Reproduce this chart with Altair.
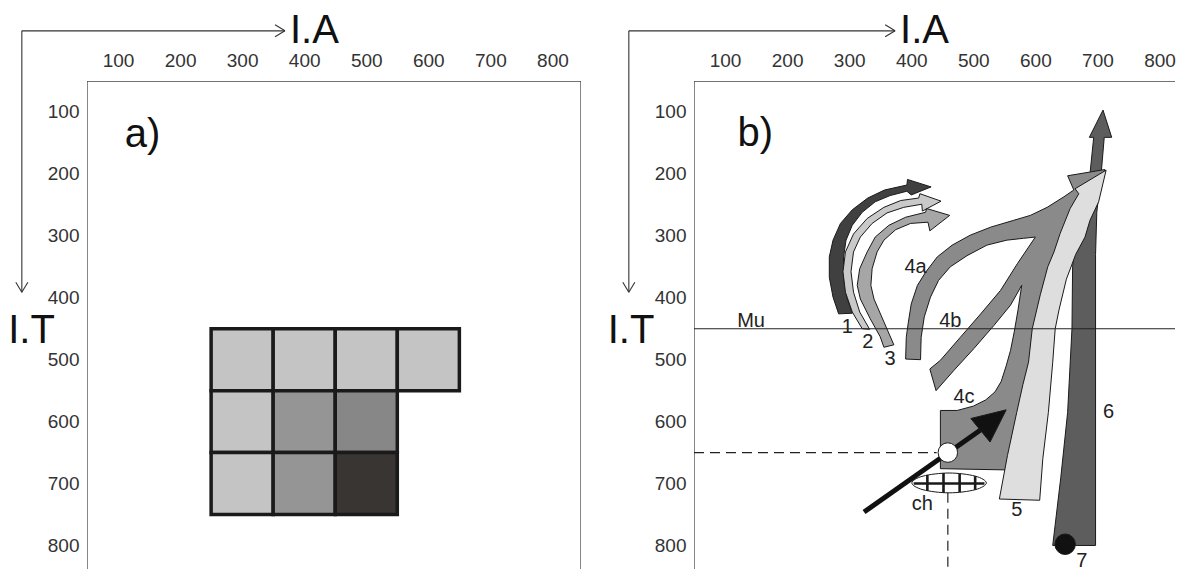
import altair as alt
import pandas as pd

FONT = "Liberation Sans, Arial, sans-serif"
INK = "#1a1a1a"

# ---------------- axes ----------------
TICKS = [100, 200, 300, 400, 500, 600, 700, 800]
X_LO, XA_HI, XB_HI = 50, 846, 825
Y_LO, Y_HI = 50, 838
W_A, W_B, H = 494, 481, 488

# ---------------- panel a : grid of cells ----------------
CELL_X0 = [250, 350, 450, 550, 250, 350, 450, 250, 350, 450]
CELL_X1 = [350, 450, 550, 650, 350, 450, 550, 350, 450, 550]
CELL_Y0 = [450, 450, 450, 450, 550, 550, 550, 650, 650, 650]
CELL_Y1 = [550, 550, 550, 550, 650, 650, 650, 750, 750, 750]
CELL_FILL = ["#c4c4c4", "#c4c4c4", "#c4c4c4", "#c4c4c4",
             "#c4c4c4", "#959595", "#878787",
             "#c4c4c4", "#959595", "#383532"]

# ---------------- panel b : trajectories ----------------
ARROW1_X = [283, 274, 268, 268, 274, 286, 305, 330, 357, 393, 394, 432, 400, 393, 366, 342, 321, 305, 295, 291, 291, 296, 305]
ARROW1_Y = [426, 399, 367, 334, 307, 280, 258, 239, 226, 218, 209, 221, 234, 228, 235, 245, 262, 283, 307, 334, 367, 399, 425]

ARROW2_X = [321, 305, 294, 290, 294, 307, 329, 356, 383, 412, 414, 448, 418, 417, 388, 361, 337, 318, 307, 303, 307, 317, 333]
ARROW2_Y = [450, 423, 391, 358, 326, 297, 272, 254, 243, 239, 232, 244, 260, 249, 254, 263, 280, 302, 326, 358, 391, 423, 451]

ARROW3_X = [356, 350, 334, 318, 313, 317, 329, 342, 364, 391, 423, 425, 462, 430, 427, 399, 375, 356, 345, 337, 335, 340, 356, 372]
ARROW3_Y = [480, 463, 434, 402, 380, 353, 326, 302, 283, 270, 262, 256, 267, 292, 278, 280, 290, 307, 326, 353, 380, 402, 439, 476]

TREE4_X = [391, 392, 395, 400, 410, 423, 442, 466, 495, 528, 565, 592, 619, 646, 662, 652, 712, 690, 662, 640,
           620, 610, 600, 585, 553, 447, 447, 474, 500, 520, 535, 545, 553, 560, 566, 572, 578, 560, 533, 501,
           469, 440, 430, 447, 479, 512, 544, 571, 600, 581, 554, 522, 490, 463, 444, 431, 421, 416, 415]
TREE4_Y = [499, 464, 442, 410, 380, 359, 334, 315, 299, 286, 275, 267, 254, 237, 226, 203, 193, 240, 300, 350,
           420, 480, 550, 620, 678, 676, 582, 582, 575, 565, 552, 535, 510, 485, 455, 420, 380, 412, 445, 482,
           517, 550, 515, 501, 464, 426, 388, 345, 302, 304, 307, 315, 332, 350, 372, 399, 431, 464, 500]

BAND5_X = [542, 555, 570, 580, 589, 595, 608, 620, 630, 640, 656, 670, 664, 714, 702, 688, 680, 665, 650, 638, 632, 628, 621, 612, 607]
BAND5_Y = [725, 655, 585, 540, 504, 450, 395, 350, 326, 296, 256, 232, 224, 194, 245, 275, 302, 330, 370, 420, 450, 504, 585, 660, 727]

BAND6_X = [628, 697, 697, 699, 706, 711, 723, 709, 687, 694, 688, 674, 665, 660, 659, 652, 641]
BAND6_Y = [800, 800, 330, 262, 200, 141, 141, 97, 141, 141, 200, 262, 300, 350, 450, 585, 690]

HEAD_X = [553, 496, 527]
HEAD_Y = [581, 595, 633]
SHAFT = [324, 746, 515, 611]

ELL_X = [401, 419, 461, 503, 521, 503, 461, 419]
ELL_Y = [699, 688, 683, 688, 699, 710, 715, 710]
HATCH_X1 = [426, 452, 478, 503, 404]
HATCH_Y1 = [686, 683, 684, 688, 700]
HATCH_X2 = [426, 452, 478, 503, 518]
HATCH_Y2 = [712, 715, 714, 710, 700]

WHITE_DOT = [459, 650]
BLACK_DOT = [648, 798]

B_LABEL_X = [142, 297, 330, 366, 407, 463, 485, 418, 570, 718, 675]
B_LABEL_Y = [438, 447, 471, 499, 350, 437, 561, 733, 743, 585, 825]
B_LABEL_T = ["Mu", "1", "2", "3", "4a", "4b", "4c", "ch", "5", "6", "7"]


class Panel:
    def __init__(self, xhi):
        self.xs = alt.Scale(domain=[X_LO, xhi], nice=False, zero=False)
        self.ys = alt.Scale(domain=[Y_LO, Y_HI], reverse=True, nice=False, zero=False)
        self.xa = alt.Axis(orient="top", values=TICKS, grid=False, ticks=False, tickSize=0, domain=False,
                           labelFont=FONT, labelFontSize=19, labelColor="#333333", labelPadding=11,
                           labelFlush=False, labelOverlap=False)
        self.ya = alt.Axis(orient="left", values=TICKS, grid=False, ticks=False, tickSize=0, domain=False,
                           labelFont=FONT, labelFontSize=19, labelColor="#333333", labelPadding=8,
                           labelOverlap=False)

    def X(self):
        return alt.X("x:Q", scale=self.xs, axis=self.xa, title=None)

    def Y(self):
        return alt.Y("y:Q", scale=self.ys, axis=self.ya, title=None)

    def poly(self, xs, ys, fill, interp=None, sw=1.0):
        px, py = list(xs), list(ys)
        if interp is None:
            px, py = px + [px[0]], py + [py[0]]
        df = pd.DataFrame({"x": px, "y": py, "i": list(range(len(px)))})
        kw = dict(fill=fill, stroke=INK, strokeWidth=sw, strokeJoin="miter")
        if interp is not None:
            kw["interpolate"] = interp
        return alt.Chart(df).mark_line(**kw).encode(x=self.X(), y=self.Y(), order=alt.Order("i:Q"))

    def segs(self, x1, y1, x2, y2, color=INK, sw=1.0, dash=None, clip=False):
        df = pd.DataFrame({"x": x1, "y": y1, "xe": x2, "ye": y2})
        kw = dict(color=color, strokeWidth=sw, clip=clip)
        if dash is not None:
            kw["strokeDash"] = dash
        return alt.Chart(df).mark_rule(**kw).encode(x=self.X(), y=self.Y(), x2=alt.X2("xe"), y2=alt.Y2("ye"))

    def texts(self, xs, ys, labels, size, align="center", color="#222222"):
        df = pd.DataFrame({"x": xs, "y": ys, "t": labels})
        return alt.Chart(df).mark_text(font=FONT, fontSize=size, align=align, baseline="middle",
                                       color=color).encode(x=self.X(), y=self.Y(), text="t:N")

    def dot(self, x, y, size, fill):
        df = pd.DataFrame({"x": [x], "y": [y]})
        return alt.Chart(df).mark_circle(size=size, color=fill, opacity=1, stroke=INK,
                                         strokeWidth=1).encode(x=self.X(), y=self.Y())

    def guides(self, xend, it_x):
        # the I.A / I.T direction arrows drawn outside the frame
        g = self.segs([-55, -55, xend, xend, -55, -55],
                      [-31, -31, -31, -31, 391, 391],
                      [xend, -55, xend - 16, xend - 16, -64.7, -45.3],
                      [-31, 391, -40.7, -21.3, 375, 375], color="#333333", sw=1.1)
        t1 = self.texts([xend + 8], [-31], ["I.A"], 40, align="left", color="#111111")
        t2 = self.texts([it_x], [454], ["I.T"], 40, align="left", color="#111111")
        return [g, t1, t2]


# ---------------- panel a ----------------
pa = Panel(XA_HI)
cells = pd.DataFrame({"x": CELL_X0, "xe": CELL_X1, "y": CELL_Y0, "ye": CELL_Y1, "c": CELL_FILL})
rects = alt.Chart(cells).mark_rect(stroke=INK, strokeWidth=3.5).encode(
    x=pa.X(), x2=alt.X2("xe"), y=pa.Y(), y2=alt.Y2("ye"), color=alt.Color("c:N", scale=None))
frame_a = pa.segs([X_LO, X_LO, XA_HI], [Y_LO, Y_LO, Y_LO], [XA_HI, X_LO, XA_HI], [Y_LO, 900, 900],
                  color="#444444", sw=1.3, clip=True)
label_a = pa.texts([111], [138], ["a)"], 40, align="left", color="#111111")
panel_a = alt.layer(frame_a, rects, label_a, *pa.guides(369, -77)).properties(width=W_A, height=H)

# ---------------- panel b ----------------
pb = Panel(XB_HI)
frame_b = pb.segs([X_LO, X_LO], [Y_LO, Y_LO], [XB_HI, X_LO], [Y_LO, 900], color="#444444", sw=1.3, clip=True)
dashed = pb.segs([X_LO, WHITE_DOT[0]], [WHITE_DOT[1], 715], [WHITE_DOT[0] - 18, WHITE_DOT[0]], [WHITE_DOT[1], 900],
                 color="#222222", sw=1.2, dash=[10, 6], clip=True)
band6 = pb.poly(BAND6_X, BAND6_Y, "#5d5d5d")
tree4 = pb.poly(TREE4_X, TREE4_Y, "#8a8a8a")
band5 = pb.poly(BAND5_X, BAND5_Y, "#dedede")
arrow1 = pb.poly(ARROW1_X, ARROW1_Y, "#404040")
arrow2 = pb.poly(ARROW2_X, ARROW2_Y, "#c9c9c9")
arrow3 = pb.poly(ARROW3_X, ARROW3_Y, "#a6a6a6")
ellipse = pb.poly(ELL_X, ELL_Y, "#ffffff", interp="cardinal-closed")
hatch = pb.segs(HATCH_X1, HATCH_Y1, HATCH_X2, HATCH_Y2, color=INK, sw=2.6)
shaft = pb.segs([SHAFT[0]], [SHAFT[1]], [SHAFT[2]], [SHAFT[3]], color="#111111", sw=5)
head = pb.poly(HEAD_X, HEAD_Y, "#111111")
wdot = pb.dot(WHITE_DOT[0], WHITE_DOT[1], 380, "#ffffff")
bdot = pb.dot(BLACK_DOT[0], BLACK_DOT[1], 420, "#111111")
mu = pb.segs([X_LO], [450], [XB_HI], [450], color="#222222", sw=1.1, clip=True)
labels_b = pb.texts(B_LABEL_X, B_LABEL_Y, B_LABEL_T, 20)
label_b = pb.texts([120], [135], ["b)"], 40, align="left", color="#111111")
panel_b = alt.layer(frame_b, dashed, band6, tree4, band5, arrow1, arrow2, arrow3, ellipse, hatch,
                    shaft, head, wdot, bdot, mu, labels_b, label_b,
                    *pb.guides(374, -89)).properties(width=W_B, height=H)

chart = alt.hconcat(panel_a, panel_b, spacing=26).properties(
    padding={"left": 0, "top": 2, "right": 0, "bottom": 0}
).configure_view(strokeWidth=0)

chart.save("out.html", embed_options={"renderer": "svg", "actions": False})
